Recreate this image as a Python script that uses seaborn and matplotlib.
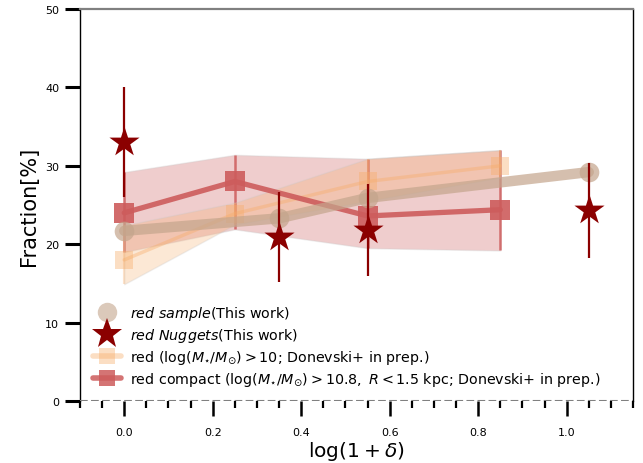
import numpy as np
import pandas as pd
import matplotlib
matplotlib.use("Agg")
import matplotlib.pyplot as plt
from matplotlib.lines import Line2D
from matplotlib.ticker import MultipleLocator
import seaborn as sns

# Red sample (this work)
delta_sample = [0.0, 0.35, 0.55, 1.05]
frac_sample = [21.7, 23.3, 25.9, 29.2]

# Red nuggets (this work)
delta_nugget = [0.0, 0.35, 0.55, 1.05]
frac_nugget = [33.0, 20.9, 21.8, 24.3]
err_nugget = [7.0, 5.7, 5.9, 6.0]

# Donevski+ in prep.: red, log(M*/Msun) > 10
delta_don = [0.0, 0.25, 0.55, 0.85]
frac_red = [18.0, 23.9, 28.0, 30.0]
red_lo = [14.9, 22.5, 25.5, 28.5]
red_hi = [22.4, 25.3, 30.9, 32.0]

# Donevski+ in prep.: red compact, log(M*/Msun) > 10.8, R < 1.5 kpc
frac_compact = [24.0, 28.0, 23.6, 24.4]
compact_lo = [19.0, 21.9, 19.5, 19.2]
compact_hi = [29.2, 31.4, 30.9, 32.0]

sns.set_style("ticks")
plt.rcParams["font.family"] = ["DejaVu Sans"]
plt.rcParams["mathtext.fontset"] = "dejavusans"
plt.rcParams["text.color"] = "black"
plt.rcParams["axes.labelcolor"] = "black"

c_sample = "#c4a58c"
c_nugget = "#8b0000"
c_red = "#f7ad6a"
c_compact = "#cd5c5c"

fig = plt.figure(figsize=(6.43, 4.64), dpi=100)
ax = fig.add_axes([80 / 643, 62 / 464, 553 / 643, 392 / 464])

df_s = pd.DataFrame({"x": delta_sample, "y": frac_sample})
df_n = pd.DataFrame({"x": delta_nugget, "y": frac_nugget, "e": err_nugget})
df_r = pd.DataFrame({"x": delta_don, "y": frac_red, "lo": red_lo, "hi": red_hi})
df_c = pd.DataFrame({"x": delta_don, "y": frac_compact,
                     "lo": compact_lo, "hi": compact_hi})

# Red compact: shaded range, error bars
ax.fill_between(df_c["x"], df_c["lo"], df_c["hi"], color=c_compact, alpha=0.3,
                edgecolor="#c8c8c8", linewidth=1.0, zorder=1)
ax.errorbar(df_c["x"], df_c["y"],
            yerr=[df_c["y"] - df_c["lo"], df_c["hi"] - df_c["y"]],
            fmt="none", ecolor=c_compact, elinewidth=1.8, alpha=0.85, zorder=2)

# Red (M* > 10): shaded range, error bars, line and squares
ax.fill_between(df_r["x"], df_r["lo"], df_r["hi"], color=c_red, alpha=0.28,
                edgecolor="#c8c8c8", linewidth=1.0, zorder=2)
ax.errorbar(df_r["x"], df_r["y"],
            yerr=[df_r["y"] - df_r["lo"], df_r["hi"] - df_r["y"]],
            fmt="none", ecolor=c_red, elinewidth=1.5, alpha=0.35, zorder=3)
sns.lineplot(data=df_r, x="x", y="y", ax=ax, color=c_red, linewidth=2.5,
             alpha=0.4, marker="s", markersize=13, markeredgewidth=0,
             zorder=3, legend=False)

# Red compact line and squares
sns.lineplot(data=df_c, x="x", y="y", ax=ax, color=c_compact, linewidth=3.8,
             alpha=0.9, marker="s", markersize=14, markeredgewidth=0,
             zorder=4, legend=False)

# Red sample: thick line with circles
sns.lineplot(data=df_s, x="x", y="y", ax=ax, color=c_sample, linewidth=7.5,
             alpha=0.7, zorder=5, legend=False)
sns.scatterplot(data=df_s, x="x", y="y", ax=ax, color=c_sample, s=200,
                alpha=0.7, linewidth=0, zorder=5, legend=False)

# Red nuggets: stars with error bars
ax.errorbar(df_n["x"], df_n["y"], yerr=df_n["e"], fmt="none",
            ecolor=c_nugget, elinewidth=1.6, zorder=6)
sns.scatterplot(data=df_n, x="x", y="y", ax=ax, color=c_nugget, marker="*",
                s=520, linewidth=0, zorder=7, legend=False)

ax.axhline(0, color="gray", linestyle="--", linewidth=1.5, zorder=8)

ax.set_xlim(-0.1, 1.15)
ax.set_ylim(0, 50)
ax.xaxis.set_major_locator(MultipleLocator(0.2))
ax.xaxis.set_minor_locator(MultipleLocator(0.05))
ax.yaxis.set_major_locator(MultipleLocator(10))

ax.tick_params(axis="y", which="major", length=11, width=2.2, labelsize=8,
               direction="out", pad=4, colors="black")
ax.tick_params(axis="x", which="major", length=11, width=1.8, labelsize=8,
               direction="out", pad=8, colors="black")
ax.tick_params(axis="x", which="minor", length=5, width=1.6, direction="out",
               colors="black")

ax.spines["bottom"].set_visible(False)
ax.spines["top"].set_color("gray")
ax.spines["top"].set_linewidth(1.6)
for side in ("left", "right"):
    ax.spines[side].set_color("black")
    ax.spines[side].set_linewidth(1.0)

ax.set_xlabel(r"$\log(1+\delta)$", fontsize=14.5, labelpad=1)
ax.set_ylabel("Fraction[%]", fontsize=15)

handles = [
    Line2D([], [], linestyle="none", marker="o", markersize=14,
           color=c_sample, alpha=0.6, markeredgewidth=0),
    Line2D([], [], linestyle="none", marker="*", markersize=23,
           color=c_nugget, markeredgewidth=0),
    Line2D([], [], linestyle="-", linewidth=4, marker="s", markersize=12,
           color=c_red, alpha=0.4, markeredgewidth=0),
    Line2D([], [], linestyle="-", linewidth=4, marker="s", markersize=12,
           color=c_compact, alpha=0.85, markeredgewidth=0),
]
labels = [
    r"$\it{red\ sample}$(This work)",
    r"$\it{red\ Nuggets}$(This work)",
    r"red ($\log(M_{\star}/M_{\odot})>10$; Donevski+ in prep.)",
    r"red compact ($\log(M_{\star}/M_{\odot})>10.8,\ R<1.5$ kpc; Donevski+ in prep.)",
]
ax.legend(handles, labels, loc="lower left", bbox_to_anchor=(0.0, 0.0),
          frameon=False, fontsize=10.3, handlelength=2.0, labelspacing=0.28,
          borderaxespad=0.7, borderpad=0.2, handletextpad=0.6)

fig.savefig("out.png", dpi=100)
